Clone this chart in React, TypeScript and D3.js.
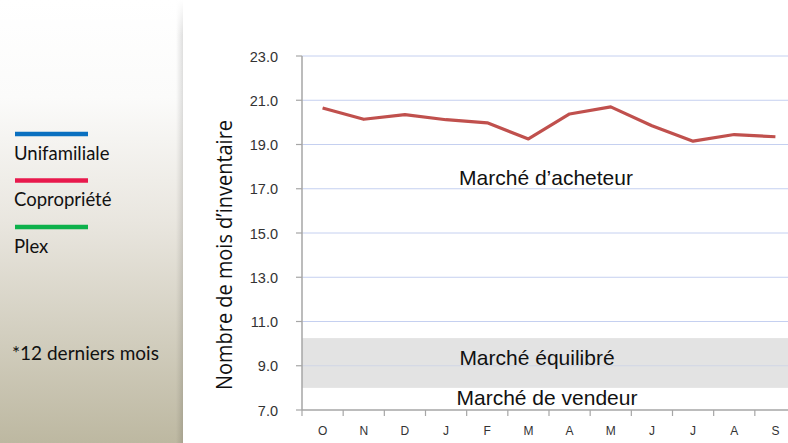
import React from "react";
import * as d3 from "d3";

const months = ["O", "N", "D", "J", "F", "M", "A", "M", "J", "J", "A", "S"];
const coproValues = [20.65, 20.14, 20.35, 20.12, 19.98, 19.25, 20.38, 20.7, 19.85, 19.15, 19.45, 19.35];
const yTicks = [7, 9, 11, 13, 15, 17, 19, 21, 23];
const legendItems = ["Unifamiliale", "Copropriété", "Plex"];
const legendColors = ["#0a70c0", "#e8194c", "#0db14b"];
const balancedBand = [8.0, 10.25];

const W = 788;
const H = 443;
const plotLeft = 302;
const plotRight = 796;
const plotTop = 56;
const plotBottom = 410;
const SANS = "'Liberation Sans', Arial, sans-serif";
const LEG = "Lato, 'Open Sans', sans-serif";

export default function App() {
  const x = d3.scaleBand<string>().domain(months.map((m, i) => String(i))).range([plotLeft, plotRight]);
  const y = d3.scaleLinear().domain([7, 23]).range([plotBottom, plotTop]);
  const line = d3
    .line<number>()
    .x((_, i) => (x(String(i)) as number) + x.bandwidth() / 2)
    .y((d) => y(d));
  const bw = x.bandwidth();
  return (
    <svg
      width={W}
      height={H}
      style={{ position: "absolute", left: 0, top: 0, background: "#fff" }}
      fontFamily={SANS}
    >
      <defs>
        <linearGradient id="panel" x1="0" y1="0" x2="0" y2="1">
          <stop offset="0" stopColor="#ffffff" />
          <stop offset="0.22" stopColor="#fbfbfa" />
          <stop offset="0.5" stopColor="#e9e6df" />
          <stop offset="1" stopColor="#bdb8a1" />
        </linearGradient>
        <linearGradient id="shadow" x1="0" y1="0" x2="1" y2="0">
          <stop offset="0" stopColor="#000" stopOpacity="0" />
          <stop offset="1" stopColor="#000" stopOpacity="0.12" />
        </linearGradient>
        <linearGradient id="shadowFade" x1="0" y1="0" x2="0" y2="1">
          <stop offset="0" stopColor="#fff" stopOpacity="1" />
          <stop offset="0.08" stopColor="#fff" stopOpacity="0" />
        </linearGradient>
        <clipPath id="clip">
          <rect x={0} y={0} width={W} height={H} />
        </clipPath>
      </defs>

      {/* left panel */}
      <rect x={0} y={0} width={183} height={H} fill="url(#panel)" />
      <rect x={176} y={0} width={7} height={H} fill="url(#shadow)" />
      <rect x={170} y={0} width={14} height={H} fill="url(#shadowFade)" />

      {legendItems.map((name, i) => (
        <g key={name}>
          <line
            x1={15}
            x2={88}
            y1={134 + i * 46.5}
            y2={134 + i * 46.5}
            stroke={legendColors[i]}
            strokeWidth={4.5}
          />
          <text x={14} y={159.5 + i * 46.5} fontSize={18.5} fill="#111" fontFamily={LEG}>
            {name}
          </text>
        </g>
      ))}
      <text x={12} y={360} fontSize={19} fill="#111" fontFamily={LEG}>
        *12 derniers mois
      </text>

      <g clipPath="url(#clip)">
        {/* balanced band */}
        <rect
          x={plotLeft}
          y={y(balancedBand[1])}
          width={plotRight - plotLeft}
          height={y(balancedBand[0]) - y(balancedBand[1])}
          fill="#e3e3e3"
        />
        {/* gridlines */}
        {yTicks.slice(1).map((t) => (
          <line
            key={t}
            x1={plotLeft}
            x2={plotRight}
            y1={y(t)}
            y2={y(t)}
            stroke={t === 9 ? "#d0d6e6" : "#c5d0f0"}
            strokeWidth={1}
          />
        ))}
        {/* axes */}
        <line x1={plotLeft} x2={plotLeft} y1={plotTop} y2={plotBottom} stroke="#a6a6a6" strokeWidth={1.5} />
        <line x1={plotLeft} x2={plotRight} y1={plotBottom} y2={plotBottom} stroke="#a6a6a6" strokeWidth={1.5} />
        {yTicks.map((t) => (
          <g key={t}>
            <line x1={plotLeft - 6} x2={plotLeft} y1={y(t)} y2={y(t)} stroke="#a6a6a6" strokeWidth={1.2} />
            <text x={278} y={y(t) + 5.5} textAnchor="end" fontSize={14.5} fill="#333">
              {t.toFixed(1)}
            </text>
          </g>
        ))}
        {months.map((m, i) => {
          const x0 = x(String(i)) as number;
          return (
            <g key={i}>
              <line x1={x0} x2={x0} y1={plotBottom} y2={plotBottom + 6} stroke="#a6a6a6" strokeWidth={1.2} />
              <text x={x0 + bw / 2} y={435} textAnchor="middle" fontSize={12} fill="#333">
                {m}
              </text>
            </g>
          );
        })}

        {/* series */}
        <path d={line(coproValues) || ""} fill="none" stroke="#c0504d" strokeWidth={3.2} strokeLinejoin="round" />

        {/* zone labels */}
        <text x={546} y={185} textAnchor="middle" fontSize={21} fill="#111">
          Marché d’acheteur
        </text>
        <text x={537} y={365} textAnchor="middle" fontSize={21} fill="#111">
          Marché équilibré
        </text>
        <text x={547} y={405} textAnchor="middle" fontSize={21} fill="#111">
          Marché de vendeur
        </text>
      </g>

      {/* y axis title */}
      <text
        transform="translate(232,255) rotate(-90)"
        textAnchor="middle"
        fontSize={21}
        fill="#111"
        fontFamily="'Liberation Sans Narrow', 'Open Sans', sans-serif"
        textLength={270}
        lengthAdjust="spacingAndGlyphs"
      >
        Nombre de mois d’inventaire
      </text>
    </svg>
  );
}
